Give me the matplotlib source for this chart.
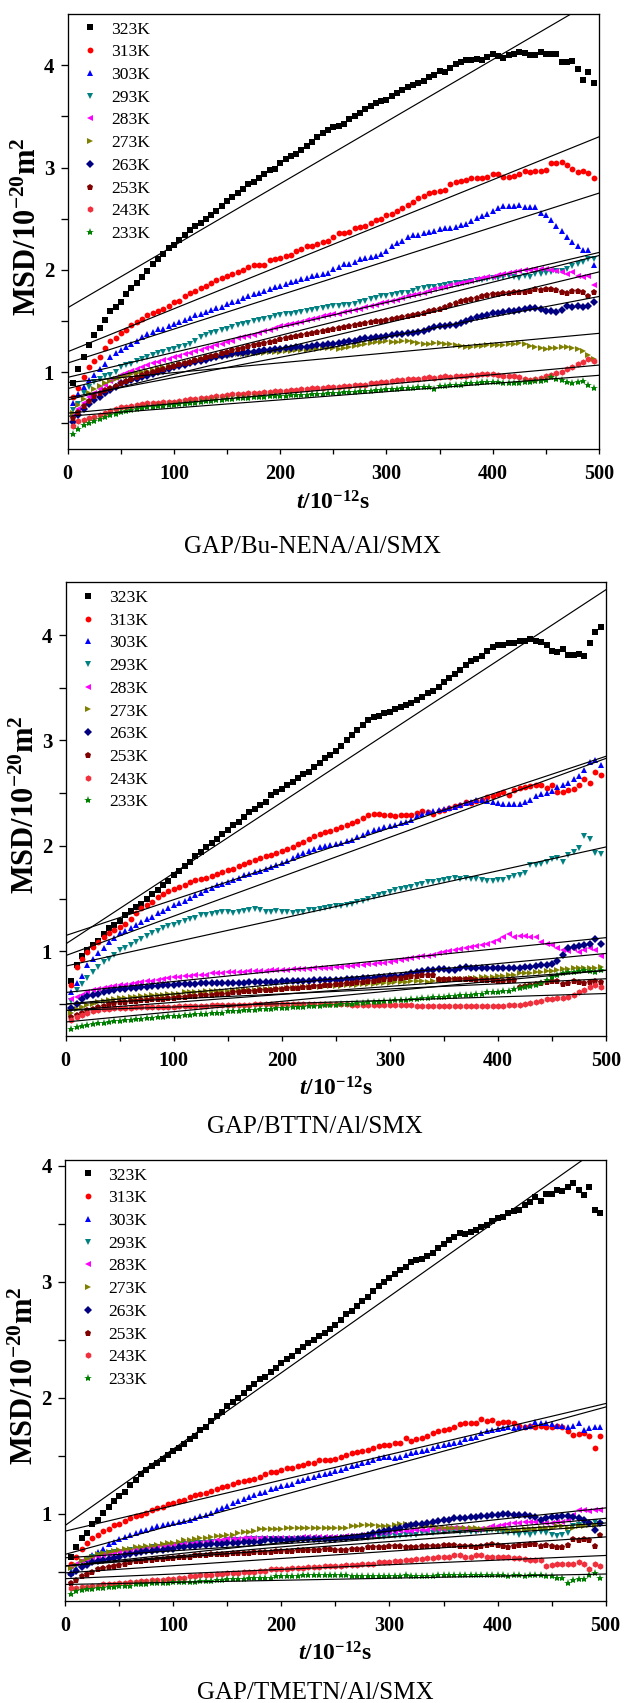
import matplotlib
matplotlib.use("Agg")
import matplotlib.pyplot as plt
import numpy as np

plt.rcParams["font.family"] = "Liberation Serif"
plt.rcParams["mathtext.fontset"] = "custom"
plt.rcParams["mathtext.rm"] = "Liberation Serif"
plt.rcParams["mathtext.it"] = "Liberation Serif:italic"
plt.rcParams["mathtext.bf"] = "Liberation Serif:bold"
plt.rcParams["mathtext.bfit"] = "Liberation Serif:italic:bold"

# sampling times (10^-12 s)
time_ps = np.arange(5, 500, 5)
fit_t = [0, 500]

temps = ["323K", "313K", "303K", "293K", "283K", "273K", "263K", "253K", "243K", "233K"]

# ---- GAP/Bu-NENA/Al/SMX ----
nena_323 = [0.89,1.03,1.15,1.27,1.36,1.43,1.51,1.60,1.64,1.69,
            1.76,1.82,1.87,1.93,1.99,2.06,2.11,2.16,2.21,2.24,
            2.29,2.34,2.39,2.43,2.46,2.50,2.54,2.58,2.62,2.67,
            2.71,2.75,2.79,2.84,2.86,2.90,2.94,2.98,2.99,3.04,
            3.08,3.11,3.13,3.17,3.21,3.25,3.30,3.34,3.37,3.40,
            3.41,3.43,3.47,3.50,3.53,3.57,3.60,3.63,3.65,3.66,
            3.70,3.73,3.76,3.79,3.81,3.83,3.85,3.88,3.90,3.94,
            3.93,3.97,4.01,4.03,4.05,4.05,4.06,4.05,4.08,4.11,
            4.09,4.07,4.10,4.11,4.13,4.12,4.10,4.10,4.13,4.11,
            4.11,4.11,4.03,4.03,4.04,3.96,3.86,3.93,3.83]
nena_313 = [0.76,0.85,0.95,1.05,1.11,1.15,1.24,1.31,1.33,1.38,
            1.41,1.46,1.49,1.52,1.56,1.58,1.60,1.62,1.65,1.69,
            1.70,1.74,1.77,1.79,1.82,1.84,1.87,1.90,1.92,1.94,
            1.96,1.98,2.00,2.03,2.05,2.05,2.05,2.10,2.11,2.12,
            2.14,2.15,2.18,2.20,2.23,2.23,2.25,2.27,2.28,2.32,
            2.36,2.36,2.37,2.41,2.42,2.43,2.46,2.49,2.50,2.54,
            2.55,2.58,2.60,2.63,2.66,2.70,2.72,2.75,2.76,2.77,
            2.78,2.84,2.86,2.87,2.88,2.90,2.90,2.90,2.91,2.94,
            2.94,2.91,2.91,2.92,2.94,2.97,2.96,2.97,2.97,2.98,
            3.04,3.04,3.05,3.02,2.99,2.96,2.97,2.95,2.90]
nena_303 = [0.70,0.79,0.86,0.92,0.97,1.03,1.08,1.15,1.19,1.22,
            1.25,1.28,1.31,1.34,1.37,1.39,1.42,1.42,1.45,1.47,
            1.49,1.51,1.53,1.56,1.57,1.59,1.61,1.63,1.64,1.67,
            1.69,1.70,1.73,1.74,1.76,1.77,1.79,1.81,1.83,1.84,
            1.86,1.88,1.89,1.91,1.92,1.94,1.95,1.96,1.97,2.01,
            2.03,2.06,2.06,2.08,2.11,2.12,2.13,2.14,2.16,2.18,
            2.23,2.26,2.28,2.32,2.34,2.34,2.36,2.37,2.38,2.40,
            2.41,2.41,2.42,2.44,2.45,2.48,2.51,2.53,2.55,2.58,
            2.60,2.62,2.62,2.62,2.63,2.61,2.61,2.61,2.56,2.54,
            2.49,2.43,2.38,2.32,2.27,2.23,2.19,2.19,2.05]
nena_293 = [0.63,0.69,0.80,0.86,0.90,0.93,0.96,0.97,1.00,1.05,
            1.07,1.08,1.11,1.13,1.15,1.17,1.19,1.20,1.22,1.23,
            1.25,1.26,1.28,1.31,1.34,1.36,1.38,1.39,1.41,1.42,
            1.44,1.46,1.47,1.48,1.50,1.51,1.52,1.53,1.55,1.56,
            1.57,1.57,1.58,1.59,1.60,1.61,1.62,1.63,1.64,1.65,
            1.65,1.66,1.66,1.67,1.69,1.70,1.72,1.73,1.74,1.74,
            1.75,1.76,1.77,1.77,1.79,1.81,1.82,1.83,1.83,1.84,
            1.85,1.86,1.87,1.87,1.88,1.89,1.90,1.90,1.91,1.92,
            1.92,1.93,1.94,1.93,1.92,1.94,1.93,1.96,1.96,1.97,
            1.98,1.99,1.99,2.01,2.04,2.06,2.08,2.11,2.11]
nena_283 = [0.58,0.64,0.70,0.76,0.80,0.84,0.88,0.91,0.94,0.97,
            0.99,1.01,1.03,1.05,1.07,1.09,1.10,1.12,1.13,1.15,
            1.16,1.18,1.19,1.21,1.22,1.24,1.25,1.27,1.28,1.30,
            1.31,1.33,1.34,1.35,1.36,1.38,1.40,1.41,1.43,1.45,
            1.46,1.47,1.48,1.49,1.51,1.52,1.53,1.55,1.56,1.57,
            1.57,1.59,1.60,1.61,1.62,1.64,1.65,1.66,1.68,1.69,
            1.70,1.71,1.73,1.74,1.75,1.76,1.77,1.79,1.81,1.82,
            1.83,1.85,1.86,1.87,1.88,1.89,1.91,1.92,1.93,1.93,
            1.95,1.96,1.97,1.98,1.99,2.00,2.00,2.01,2.01,2.01,
            2.00,1.99,1.98,1.96,1.98,1.94,1.93,1.94,1.85]
nena_273 = [0.60,0.68,0.74,0.80,0.84,0.87,0.89,0.91,0.93,0.95,
            0.96,0.98,0.99,1.00,1.01,1.02,1.04,1.05,1.06,1.07,
            1.08,1.09,1.10,1.12,1.13,1.14,1.14,1.15,1.16,1.17,
            1.17,1.18,1.18,1.18,1.19,1.19,1.19,1.20,1.20,1.20,
            1.21,1.21,1.22,1.22,1.22,1.23,1.23,1.24,1.24,1.24,
            1.23,1.24,1.25,1.26,1.27,1.28,1.29,1.30,1.30,1.31,
            1.30,1.30,1.31,1.31,1.30,1.29,1.28,1.28,1.29,1.29,
            1.28,1.28,1.27,1.26,1.25,1.25,1.26,1.26,1.27,1.27,
            1.27,1.27,1.28,1.28,1.29,1.28,1.26,1.25,1.24,1.23,
            1.24,1.24,1.25,1.25,1.24,1.23,1.21,1.17,1.13]
nena_263 = [0.51,0.58,0.64,0.69,0.73,0.76,0.80,0.83,0.86,0.89,
            0.90,0.92,0.93,0.95,0.96,0.98,1.00,1.01,1.03,1.05,
            1.06,1.07,1.09,1.10,1.11,1.12,1.14,1.15,1.16,1.17,
            1.18,1.19,1.19,1.20,1.20,1.21,1.22,1.22,1.23,1.23,
            1.24,1.24,1.25,1.25,1.25,1.26,1.27,1.27,1.28,1.28,
            1.29,1.30,1.31,1.31,1.32,1.33,1.33,1.34,1.34,1.35,
            1.36,1.37,1.37,1.38,1.38,1.39,1.40,1.42,1.44,1.45,
            1.45,1.46,1.46,1.48,1.50,1.52,1.54,1.55,1.56,1.58,
            1.58,1.59,1.60,1.60,1.61,1.62,1.63,1.63,1.62,1.60,
            1.60,1.59,1.61,1.65,1.64,1.65,1.64,1.65,1.69]
nena_253 = [0.55,0.61,0.67,0.72,0.77,0.80,0.83,0.85,0.87,0.89,
            0.91,0.93,0.95,0.97,0.99,1.00,1.02,1.03,1.05,1.06,
            1.08,1.09,1.10,1.12,1.13,1.15,1.16,1.17,1.19,1.20,
            1.22,1.23,1.24,1.26,1.27,1.28,1.29,1.30,1.31,1.32,
            1.33,1.34,1.35,1.36,1.37,1.38,1.39,1.40,1.41,1.42,
            1.43,1.44,1.45,1.46,1.47,1.48,1.49,1.50,1.50,1.51,
            1.52,1.53,1.54,1.55,1.56,1.57,1.58,1.60,1.61,1.62,
            1.64,1.66,1.68,1.70,1.71,1.72,1.73,1.74,1.75,1.76,
            1.76,1.77,1.77,1.78,1.78,1.78,1.79,1.81,1.80,1.81,
            1.81,1.80,1.78,1.77,1.79,1.79,1.78,1.74,1.78]
nena_243 = [0.47,0.52,0.53,0.55,0.56,0.58,0.60,0.62,0.64,0.66,
            0.66,0.67,0.68,0.69,0.70,0.70,0.70,0.71,0.71,0.71,
            0.72,0.73,0.74,0.74,0.75,0.75,0.76,0.77,0.77,0.78,
            0.79,0.79,0.79,0.80,0.80,0.80,0.81,0.81,0.82,0.82,
            0.82,0.83,0.83,0.84,0.84,0.85,0.85,0.85,0.86,0.86,
            0.86,0.87,0.87,0.88,0.88,0.88,0.89,0.89,0.90,0.90,
            0.91,0.92,0.92,0.93,0.93,0.93,0.94,0.95,0.94,0.95,
            0.96,0.95,0.96,0.96,0.96,0.97,0.97,0.98,0.98,0.98,
            0.97,0.96,0.96,0.96,0.95,0.93,0.92,0.93,0.94,0.96,
            0.97,0.99,1.00,1.03,1.05,1.08,1.10,1.13,1.11]
nena_233 = [0.40,0.45,0.48,0.50,0.52,0.54,0.56,0.58,0.59,0.61,
            0.62,0.63,0.64,0.65,0.66,0.66,0.67,0.67,0.68,0.68,
            0.69,0.69,0.70,0.70,0.71,0.72,0.72,0.73,0.73,0.74,
            0.74,0.75,0.75,0.75,0.76,0.76,0.76,0.77,0.77,0.77,
            0.77,0.78,0.78,0.78,0.78,0.79,0.79,0.79,0.80,0.80,
            0.80,0.81,0.81,0.81,0.82,0.82,0.82,0.83,0.83,0.84,
            0.84,0.84,0.85,0.85,0.85,0.86,0.86,0.86,0.84,0.87,
            0.87,0.88,0.88,0.88,0.89,0.89,0.89,0.90,0.90,0.90,
            0.90,0.89,0.89,0.89,0.89,0.90,0.90,0.91,0.91,0.92,
            0.95,0.93,0.92,0.90,0.89,0.90,0.91,0.88,0.85]
nena_fit_at0 = [1.63, 1.20, 1.09, 0.95, 0.84, 0.90, 0.75, 0.73, 0.60, 0.57]
nena_fit_at500 = [4.66, 3.30, 2.75, 2.17, 2.14, 1.38, 1.74, 1.98, 1.07, 0.97]

# ---- GAP/BTTN/Al/SMX ----
bttn_323 = [0.72,0.87,0.96,1.01,1.06,1.10,1.16,1.22,1.25,1.29,
            1.34,1.38,1.42,1.45,1.50,1.54,1.58,1.63,1.67,1.72,
            1.76,1.81,1.85,1.90,1.94,1.99,2.03,2.07,2.11,2.15,
            2.20,2.23,2.27,2.32,2.35,2.39,2.42,2.48,2.51,2.54,
            2.58,2.61,2.64,2.68,2.70,2.75,2.79,2.83,2.86,2.90,
            2.95,3.00,3.05,3.10,3.15,3.19,3.22,3.23,3.26,3.27,
            3.30,3.32,3.34,3.36,3.38,3.41,3.45,3.47,3.51,3.55,
            3.59,3.63,3.67,3.72,3.75,3.77,3.80,3.85,3.89,3.91,
            3.91,3.92,3.92,3.94,3.94,3.96,3.94,3.93,3.91,3.85,
            3.84,3.87,3.81,3.81,3.82,3.80,3.92,4.03,4.08]
bttn_313 = [0.68,0.85,0.93,0.99,1.04,1.09,1.14,1.17,1.20,1.23,
            1.26,1.31,1.36,1.41,1.44,1.47,1.52,1.54,1.57,1.59,
            1.61,1.63,1.66,1.68,1.69,1.70,1.71,1.73,1.75,1.77,
            1.78,1.81,1.83,1.85,1.87,1.89,1.90,1.91,1.93,1.95,
            1.97,1.99,2.02,2.04,2.07,2.09,2.11,2.13,2.14,2.16,
            2.18,2.20,2.22,2.24,2.26,2.29,2.30,2.30,2.29,2.29,
            2.28,2.29,2.29,2.29,2.31,2.33,2.32,2.30,2.33,2.34,
            2.36,2.38,2.39,2.42,2.41,2.43,2.44,2.46,2.47,2.49,
            2.51,2.48,2.53,2.55,2.56,2.57,2.58,2.58,2.55,2.58,
            2.51,2.51,2.53,2.54,2.58,2.63,2.60,2.70,2.67]
bttn_303 = [0.61,0.70,0.77,0.87,0.93,0.98,1.03,1.09,1.13,1.17,
            1.19,1.22,1.25,1.28,1.31,1.33,1.36,1.38,1.41,1.44,
            1.46,1.48,1.51,1.53,1.55,1.58,1.60,1.63,1.64,1.66,
            1.68,1.70,1.72,1.73,1.75,1.76,1.78,1.80,1.82,1.84,
            1.86,1.89,1.91,1.93,1.95,1.97,1.99,2.00,2.01,2.02,
            2.03,2.05,2.06,2.08,2.10,2.13,2.15,2.16,2.18,2.19,
            2.20,2.22,2.23,2.25,2.28,2.30,2.32,2.33,2.34,2.35,
            2.36,2.37,2.39,2.41,2.42,2.44,2.44,2.43,2.42,2.41,
            2.40,2.40,2.40,2.40,2.42,2.44,2.47,2.49,2.50,2.52,
            2.56,2.58,2.60,2.63,2.66,2.72,2.80,2.81,2.77]
bttn_293 = [0.53,0.63,0.69,0.75,0.80,0.85,0.90,0.93,0.97,1.01,
            1.03,1.06,1.09,1.12,1.15,1.17,1.19,1.22,1.24,1.25,
            1.27,1.29,1.31,1.32,1.34,1.34,1.35,1.36,1.37,1.37,
            1.36,1.37,1.38,1.39,1.40,1.39,1.37,1.37,1.38,1.37,
            1.37,1.36,1.37,1.37,1.39,1.39,1.40,1.41,1.42,1.43,
            1.43,1.44,1.45,1.47,1.48,1.50,1.52,1.53,1.54,1.56,
            1.58,1.59,1.60,1.61,1.63,1.64,1.66,1.66,1.67,1.68,
            1.69,1.70,1.69,1.70,1.69,1.69,1.68,1.67,1.67,1.68,
            1.68,1.70,1.71,1.72,1.74,1.82,1.82,1.83,1.85,1.88,
            1.89,1.85,1.91,1.94,1.98,2.09,2.07,1.93,1.92]
bttn_283 = [0.55,0.57,0.59,0.61,0.63,0.64,0.65,0.66,0.67,0.68,
            0.68,0.69,0.70,0.71,0.72,0.72,0.73,0.74,0.75,0.76,
            0.76,0.77,0.77,0.78,0.78,0.78,0.79,0.79,0.79,0.80,
            0.80,0.80,0.80,0.81,0.81,0.81,0.81,0.82,0.82,0.82,
            0.82,0.83,0.83,0.83,0.83,0.84,0.84,0.84,0.84,0.85,
            0.85,0.86,0.86,0.87,0.87,0.88,0.88,0.89,0.89,0.90,
            0.91,0.92,0.93,0.94,0.95,0.96,0.96,0.97,0.98,0.99,
            1.00,1.01,1.02,1.03,1.04,1.05,1.06,1.07,1.09,1.11,
            1.14,1.16,1.14,1.15,1.15,1.14,1.14,1.09,1.07,1.06,
            1.03,1.01,1.00,1.02,0.99,1.01,1.03,1.01,0.96]
bttn_273 = [0.42,0.45,0.47,0.49,0.50,0.52,0.53,0.54,0.55,0.56,
            0.56,0.57,0.57,0.58,0.58,0.59,0.59,0.59,0.60,0.60,
            0.60,0.61,0.61,0.61,0.61,0.62,0.62,0.62,0.62,0.62,
            0.63,0.63,0.63,0.63,0.63,0.64,0.64,0.64,0.64,0.64,
            0.65,0.65,0.65,0.66,0.66,0.66,0.66,0.67,0.67,0.67,
            0.67,0.68,0.68,0.68,0.69,0.69,0.69,0.70,0.70,0.70,
            0.71,0.71,0.71,0.72,0.72,0.72,0.71,0.72,0.73,0.73,
            0.73,0.74,0.74,0.74,0.75,0.75,0.76,0.76,0.76,0.77,
            0.77,0.78,0.78,0.79,0.79,0.79,0.80,0.80,0.81,0.81,
            0.82,0.83,0.83,0.84,0.84,0.84,0.84,0.84,0.85]
bttn_263 = [0.46,0.50,0.55,0.58,0.59,0.60,0.61,0.62,0.63,0.64,
            0.64,0.65,0.65,0.66,0.66,0.67,0.67,0.68,0.68,0.68,
            0.69,0.69,0.69,0.69,0.70,0.70,0.70,0.70,0.70,0.70,
            0.70,0.70,0.70,0.71,0.71,0.71,0.71,0.71,0.71,0.72,
            0.72,0.72,0.72,0.72,0.72,0.73,0.73,0.73,0.73,0.73,
            0.73,0.74,0.74,0.74,0.75,0.75,0.75,0.76,0.76,0.77,
            0.77,0.77,0.78,0.79,0.80,0.81,0.82,0.82,0.83,0.83,
            0.82,0.82,0.84,0.85,0.84,0.84,0.84,0.84,0.84,0.84,
            0.84,0.84,0.84,0.84,0.85,0.85,0.86,0.87,0.87,0.88,
            0.91,0.97,1.03,1.04,1.05,1.06,1.07,1.12,1.07]
bttn_253 = [0.38,0.40,0.42,0.44,0.45,0.47,0.48,0.50,0.51,0.52,
            0.52,0.53,0.53,0.54,0.54,0.55,0.55,0.55,0.56,0.56,
            0.57,0.57,0.58,0.58,0.59,0.59,0.59,0.60,0.60,0.60,
            0.61,0.61,0.62,0.62,0.62,0.63,0.63,0.63,0.64,0.64,
            0.65,0.65,0.65,0.66,0.66,0.67,0.67,0.68,0.68,0.69,
            0.69,0.70,0.70,0.71,0.71,0.72,0.72,0.73,0.74,0.74,
            0.75,0.75,0.76,0.77,0.77,0.78,0.78,0.78,0.74,0.74,
            0.74,0.74,0.74,0.74,0.74,0.73,0.73,0.73,0.73,0.72,
            0.72,0.73,0.73,0.66,0.67,0.68,0.69,0.70,0.71,0.72,
            0.72,0.69,0.70,0.72,0.71,0.70,0.71,0.72,0.71]
bttn_243 = [0.35,0.38,0.40,0.42,0.43,0.44,0.45,0.45,0.46,0.46,
            0.46,0.46,0.47,0.47,0.47,0.47,0.47,0.47,0.47,0.47,
            0.48,0.48,0.48,0.48,0.48,0.48,0.49,0.49,0.49,0.49,
            0.49,0.49,0.49,0.49,0.50,0.50,0.50,0.50,0.50,0.50,
            0.50,0.50,0.50,0.50,0.50,0.50,0.50,0.50,0.50,0.50,
            0.50,0.50,0.49,0.49,0.49,0.49,0.49,0.49,0.49,0.49,
            0.49,0.49,0.49,0.49,0.48,0.48,0.48,0.48,0.48,0.48,
            0.48,0.48,0.48,0.48,0.48,0.48,0.48,0.48,0.48,0.48,
            0.48,0.49,0.49,0.49,0.50,0.51,0.52,0.53,0.55,0.55,
            0.56,0.56,0.57,0.59,0.61,0.63,0.66,0.68,0.66]
bttn_233 = [0.26,0.28,0.29,0.30,0.31,0.32,0.32,0.33,0.34,0.34,
            0.35,0.35,0.36,0.36,0.37,0.37,0.38,0.38,0.39,0.39,
            0.39,0.40,0.40,0.41,0.41,0.41,0.42,0.42,0.42,0.43,
            0.43,0.43,0.44,0.44,0.44,0.45,0.45,0.45,0.46,0.46,
            0.46,0.47,0.47,0.47,0.48,0.48,0.48,0.49,0.49,0.49,
            0.50,0.50,0.50,0.51,0.51,0.52,0.52,0.52,0.53,0.53,
            0.54,0.54,0.54,0.55,0.55,0.56,0.56,0.57,0.57,0.57,
            0.58,0.58,0.59,0.59,0.59,0.60,0.60,0.61,0.61,0.61,
            0.62,0.62,0.64,0.65,0.66,0.67,0.68,0.70,0.73,0.76,
            0.78,0.79,0.80,0.80,0.81,0.82,0.81,0.80,0.82]
bttn_fit_at0 = [1.07, 1.15, 0.96, 0.86, 0.61, 0.44, 0.50, 0.50, 0.44, 0.33]
bttn_fit_at500 = [4.43, 2.85, 2.83, 1.99, 1.13, 0.82, 0.98, 0.74, 0.60, 0.82]

# ---- GAP/TMETN/Al/SMX ----
tmetn_323 = [0.63,0.71,0.79,0.83,0.91,0.95,1.01,1.06,1.11,1.15,
             1.19,1.25,1.29,1.34,1.38,1.41,1.44,1.47,1.51,1.54,
             1.57,1.60,1.64,1.67,1.72,1.75,1.80,1.84,1.88,1.93,
             1.96,2.00,2.04,2.08,2.12,2.16,2.18,2.22,2.26,2.30,
             2.33,2.36,2.40,2.44,2.47,2.50,2.53,2.56,2.59,2.63,
             2.67,2.72,2.75,2.79,2.83,2.87,2.92,2.96,3.00,3.03,
             3.07,3.10,3.13,3.17,3.19,3.20,3.22,3.25,3.29,3.33,
             3.36,3.39,3.42,3.41,3.43,3.45,3.47,3.49,3.52,3.55,
             3.56,3.59,3.61,3.62,3.66,3.69,3.73,3.70,3.76,3.76,
             3.79,3.78,3.82,3.85,3.79,3.75,3.82,3.62,3.59]
tmetn_313 = [0.57,0.63,0.70,0.75,0.79,0.82,0.85,0.87,0.90,0.91,
             0.94,0.96,0.98,0.99,1.01,1.03,1.05,1.06,1.08,1.09,
             1.11,1.12,1.14,1.16,1.17,1.18,1.20,1.21,1.23,1.24,
             1.26,1.27,1.28,1.29,1.30,1.32,1.34,1.36,1.36,1.38,
             1.39,1.39,1.41,1.42,1.44,1.44,1.46,1.46,1.46,1.47,
             1.49,1.51,1.52,1.53,1.54,1.55,1.57,1.58,1.59,1.59,
             1.61,1.61,1.65,1.63,1.64,1.65,1.67,1.70,1.71,1.72,
             1.73,1.75,1.77,1.78,1.78,1.78,1.82,1.80,1.81,1.78,
             1.79,1.79,1.78,1.76,1.75,1.76,1.75,1.76,1.75,1.75,
             1.76,1.75,1.71,1.68,1.69,1.70,1.67,1.57,1.67]
tmetn_303 = [0.49,0.53,0.56,0.61,0.64,0.67,0.70,0.74,0.76,0.78,
             0.80,0.82,0.83,0.85,0.86,0.88,0.89,0.90,0.91,0.92,
             0.93,0.94,0.95,0.96,0.98,0.99,1.01,1.03,1.05,1.07,
             1.09,1.11,1.13,1.14,1.16,1.18,1.19,1.21,1.22,1.24,
             1.25,1.26,1.28,1.29,1.31,1.32,1.33,1.34,1.35,1.37,
             1.38,1.39,1.41,1.42,1.44,1.45,1.46,1.48,1.49,1.49,
             1.48,1.49,1.51,1.52,1.53,1.54,1.55,1.57,1.58,1.59,
             1.60,1.61,1.62,1.64,1.65,1.66,1.70,1.71,1.72,1.73,
             1.74,1.75,1.74,1.75,1.75,1.76,1.79,1.78,1.78,1.77,
             1.76,1.76,1.75,1.76,1.78,1.72,1.74,1.75,1.75]
tmetn_293 = [0.52,0.55,0.58,0.61,0.63,0.64,0.65,0.66,0.67,0.67,
             0.68,0.69,0.69,0.70,0.70,0.71,0.71,0.72,0.72,0.73,
             0.73,0.74,0.74,0.75,0.75,0.75,0.76,0.76,0.76,0.77,
             0.77,0.77,0.77,0.78,0.78,0.78,0.78,0.78,0.78,0.78,
             0.78,0.78,0.78,0.78,0.78,0.78,0.78,0.78,0.78,0.78,
             0.78,0.78,0.79,0.79,0.79,0.79,0.80,0.80,0.80,0.81,
             0.81,0.81,0.82,0.82,0.82,0.83,0.83,0.83,0.84,0.84,
             0.85,0.85,0.84,0.85,0.84,0.84,0.85,0.85,0.86,0.85,
             0.84,0.83,0.83,0.82,0.83,0.82,0.83,0.84,0.83,0.82,
             0.81,0.82,0.83,0.89,0.90,0.92,0.91,0.93,0.91]
tmetn_283 = [0.55,0.57,0.59,0.60,0.62,0.63,0.64,0.65,0.66,0.67,
             0.67,0.68,0.69,0.69,0.70,0.71,0.71,0.72,0.72,0.73,
             0.73,0.74,0.74,0.75,0.75,0.76,0.76,0.77,0.77,0.78,
             0.78,0.78,0.79,0.79,0.79,0.79,0.79,0.79,0.79,0.79,
             0.79,0.79,0.79,0.80,0.80,0.80,0.80,0.80,0.80,0.80,
             0.80,0.81,0.81,0.81,0.82,0.82,0.82,0.83,0.83,0.84,
             0.84,0.85,0.85,0.85,0.86,0.86,0.86,0.87,0.87,0.87,
             0.88,0.88,0.88,0.87,0.87,0.86,0.87,0.88,0.89,0.89,
             0.90,0.91,0.92,0.92,0.93,0.93,0.93,0.93,0.92,0.92,
             0.93,0.93,0.95,0.99,1.03,1.03,1.02,1.03,1.03]
tmetn_273 = [0.53,0.56,0.59,0.61,0.63,0.65,0.66,0.67,0.68,0.69,
             0.70,0.70,0.71,0.71,0.72,0.72,0.73,0.74,0.75,0.75,
             0.76,0.77,0.77,0.78,0.79,0.79,0.80,0.81,0.81,0.82,
             0.82,0.83,0.84,0.84,0.85,0.87,0.87,0.87,0.87,0.87,
             0.88,0.88,0.88,0.88,0.88,0.88,0.88,0.88,0.88,0.88,
             0.88,0.88,0.89,0.89,0.90,0.90,0.90,0.89,0.89,0.89,
             0.90,0.91,0.91,0.90,0.90,0.89,0.89,0.89,0.88,0.88,
             0.88,0.88,0.88,0.88,0.88,0.88,0.87,0.87,0.87,0.87,
             0.87,0.86,0.86,0.86,0.87,0.87,0.87,0.88,0.88,0.88,
             0.89,0.89,0.88,0.88,0.89,0.89,0.90,0.90,0.91]
tmetn_263 = [0.48,0.51,0.54,0.56,0.58,0.59,0.60,0.61,0.62,0.63,
             0.64,0.65,0.66,0.67,0.68,0.68,0.69,0.69,0.70,0.70,
             0.71,0.71,0.72,0.72,0.73,0.73,0.74,0.74,0.74,0.75,
             0.75,0.75,0.76,0.76,0.76,0.76,0.77,0.77,0.77,0.77,
             0.77,0.77,0.78,0.78,0.78,0.78,0.78,0.78,0.78,0.78,
             0.79,0.79,0.80,0.80,0.81,0.82,0.83,0.84,0.85,0.86,
             0.87,0.88,0.89,0.90,0.91,0.91,0.92,0.93,0.94,0.95,
             0.95,0.96,0.96,0.96,0.97,0.97,0.98,0.98,0.99,0.99,
             1.00,1.00,0.99,0.99,0.99,0.98,0.97,0.95,0.96,0.97,
             0.97,0.98,0.98,0.97,0.96,0.95,0.92,0.86,0.92]
tmetn_253 = [0.40,0.43,0.46,0.48,0.50,0.52,0.53,0.54,0.55,0.56,
             0.57,0.58,0.59,0.59,0.60,0.60,0.61,0.61,0.62,0.62,
             0.63,0.63,0.63,0.64,0.64,0.64,0.65,0.65,0.65,0.65,
             0.66,0.66,0.66,0.66,0.67,0.67,0.67,0.67,0.68,0.68,
             0.68,0.68,0.69,0.69,0.69,0.69,0.69,0.70,0.70,0.69,
             0.69,0.69,0.70,0.70,0.70,0.71,0.71,0.71,0.71,0.72,
             0.72,0.72,0.71,0.71,0.71,0.72,0.72,0.72,0.72,0.73,
             0.73,0.73,0.72,0.72,0.72,0.71,0.72,0.73,0.74,0.73,
             0.72,0.71,0.72,0.73,0.73,0.74,0.74,0.72,0.73,0.72,
             0.71,0.71,0.73,0.78,0.77,0.78,0.77,0.72,0.82]
tmetn_243 = [0.36,0.36,0.37,0.37,0.38,0.38,0.39,0.39,0.39,0.40,
             0.40,0.41,0.41,0.42,0.42,0.43,0.43,0.43,0.44,0.44,
             0.45,0.45,0.46,0.46,0.47,0.47,0.47,0.48,0.48,0.49,
             0.49,0.49,0.50,0.50,0.50,0.51,0.51,0.52,0.52,0.52,
             0.52,0.53,0.53,0.53,0.54,0.54,0.54,0.55,0.55,0.55,
             0.55,0.56,0.56,0.56,0.57,0.57,0.57,0.58,0.58,0.58,
             0.59,0.59,0.60,0.60,0.61,0.61,0.62,0.62,0.63,0.63,
             0.63,0.64,0.64,0.63,0.63,0.64,0.64,0.63,0.63,0.63,
             0.63,0.63,0.62,0.62,0.61,0.60,0.60,0.60,0.55,0.56,
             0.57,0.57,0.57,0.57,0.58,0.57,0.52,0.57,0.55]
tmetn_233 = [0.31,0.33,0.34,0.35,0.35,0.36,0.36,0.37,0.37,0.38,
             0.38,0.38,0.39,0.39,0.39,0.40,0.40,0.40,0.40,0.41,
             0.41,0.41,0.41,0.41,0.42,0.42,0.42,0.43,0.43,0.44,
             0.44,0.44,0.44,0.45,0.45,0.45,0.45,0.45,0.46,0.46,
             0.46,0.46,0.46,0.47,0.47,0.47,0.47,0.47,0.47,0.47,
             0.47,0.47,0.46,0.46,0.46,0.46,0.46,0.46,0.46,0.46,
             0.46,0.46,0.47,0.46,0.46,0.46,0.46,0.46,0.47,0.47,
             0.47,0.47,0.47,0.47,0.47,0.47,0.47,0.47,0.47,0.47,
             0.47,0.46,0.47,0.47,0.46,0.47,0.47,0.47,0.46,0.46,
             0.45,0.45,0.40,0.43,0.44,0.44,0.47,0.49,0.45]
tmetn_fit_at0 = [0.90, 0.85, 0.65, 0.55, 0.55, 0.62, 0.55, 0.49, 0.44, 0.39]
tmetn_fit_at500 = [4.19, 1.95, 1.92, 0.90, 1.05, 0.92, 0.96, 0.80, 0.64, 0.48]

# ---- styling ----
COLORS = ["#000000", "#ff0000", "#0000ff", "#008080", "#ff00ff",
          "#808000", "#000080", "#800000", "#f0303c", "#008000"]
MARKERS = ["s", "o", "^", "v", "<", ">", "D", "p", "h", "*"]
MSIZES = [3.8, 4.2, 4.8, 4.8, 4.8, 4.8, 3.8, 4.6, 4.6, 6.0]

FIG_W, FIG_H = 624, 1703
fig = plt.figure(figsize=(FIG_W / 100, FIG_H / 100), dpi=100, facecolor="white")

panels = [
    dict(series=[nena_323, nena_313, nena_303, nena_293, nena_283,
                 nena_273, nena_263, nena_253, nena_243, nena_233],
         fit0=nena_fit_at0, fit1=nena_fit_at500,
         box=(67.7, 14.0, 599.0, 449.0), ylim=(0.25, 4.5),
         caption="GAP/Bu-NENA/Al/SMX", cap=(312, 553)),
    dict(series=[bttn_323, bttn_313, bttn_303, bttn_293, bttn_283,
                 bttn_273, bttn_263, bttn_253, bttn_243, bttn_233],
         fit0=bttn_fit_at0, fit1=bttn_fit_at500,
         box=(65.7, 582.3, 606.0, 1035.7), ylim=(0.2, 4.5),
         caption="GAP/BTTN/Al/SMX", cap=(315, 1133)),
    dict(series=[tmetn_323, tmetn_313, tmetn_303, tmetn_293, tmetn_283,
                 tmetn_273, tmetn_263, tmetn_253, tmetn_243, tmetn_233],
         fit0=tmetn_fit_at0, fit1=tmetn_fit_at500,
         box=(65.3, 1160.0, 605.6, 1600.7), ylim=(0.25, 4.05),
         caption="GAP/TMETN/Al/SMX", cap=(315, 1699)),
]

for p in panels:
    x0, y0, x1, y1 = p["box"]
    w_px, h_px = x1 - x0, y1 - y0
    ax = fig.add_axes([x0 / FIG_W, 1 - y1 / FIG_H, w_px / FIG_W, h_px / FIG_H])

    for i, vals in enumerate(p["series"]):
        assert len(vals) == len(time_ps), (p["caption"], temps[i], len(vals))
        ax.plot(time_ps, vals, linestyle="none", marker=MARKERS[i], ms=MSIZES[i],
                color=COLORS[i], mew=0, label=temps[i], zorder=2)
    for a, b in zip(p["fit0"], p["fit1"]):
        ax.plot(fit_t, [a, b], color="black", lw=0.85, zorder=3)

    ax.set_xlim(0, 500)
    ax.set_ylim(*p["ylim"])
    ax.set_xticks([0, 100, 200, 300, 400, 500], ["0", "100", "200", "300", "400", "500"],
                  fontsize=14.5, fontweight="bold")
    ax.set_xticks([50, 150, 250, 350, 450], minor=True)
    ax.set_yticks([1, 2, 3, 4], ["1", "2", "3", "4"], fontsize=15, fontweight="bold")
    ax.set_yticks([0.5, 1.5, 2.5, 3.5], minor=True)
    ax.tick_params(axis="x", which="both", direction="out", length=3.6, width=0.95, pad=7.5)
    ax.tick_params(axis="y", which="both", direction="out", length=4.7, width=0.95, pad=5.0)
    for s in ax.spines.values():
        s.set_linewidth(0.95)

    ax.set_xlabel(r"$\mathbfit{t}\mathbf{/10^{-12}s}$", fontsize=17)
    ax.xaxis.label.set_va("baseline")
    ax.xaxis.set_label_coords(0.5, -60.0 / h_px)
    ax.set_ylabel(r"$\mathbf{MSD/10^{-20}m^{2}}$", fontsize=22)
    ax.yaxis.label.set_rotation_mode("anchor")
    ax.yaxis.label.set_va("baseline")
    ax.yaxis.label.set_ha("center")
    ax.yaxis.set_label_coords(-32.0 / w_px, 0.51)

    ax.legend(loc="upper left", frameon=False, fontsize=12.6, numpoints=1,
              borderaxespad=0.35, borderpad=0.07, handlelength=1.73,
              handletextpad=0.31, labelspacing=0.37)

    fig.text(p["cap"][0] / FIG_W, 1 - p["cap"][1] / FIG_H, p["caption"],
             ha="center", va="baseline", fontsize=18)

fig.savefig("out.png", dpi=100, facecolor="white")
